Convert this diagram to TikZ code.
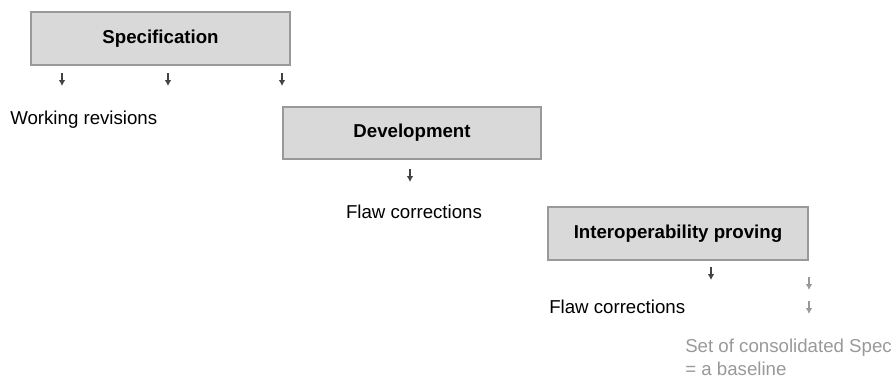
\documentclass[tikz,border=0pt]{standalone}
\usepackage{fontspec}
\setmainfont{Liberation Sans}
\usetikzlibrary{arrows.meta}
\definecolor{boxfill}{HTML}{D9D9D9}
\definecolor{boxline}{HTML}{999999}
\definecolor{darkarrow}{HTML}{434343}
\definecolor{lightarrow}{HTML}{999999}
\newcommand*{\arrowLen}{13}
\newcommand*{\labelFont}{\fontsize{14}{17}\selectfont}
\tikzset{
	phase/.style={draw=boxline,fill=boxfill,line width=0.9pt,font=\labelFont\bfseries,inner sep=0pt},
	note/.style={inner sep=0pt,text=black,font=\labelFont},
	tick/.style={line width=1pt,-{Latex[length=4.5pt,width=5pt]}}
}

\begin{document}
\begin{tikzpicture}[x=0.75pt,y=-0.75pt]
	\useasboundingbox (0,0) rectangle (893,380);

	\node[phase,minimum width=194.25pt,minimum height=39.75pt] (spec) at (160.5,38.5) {Specification};
	\node[phase,minimum width=193.5pt,minimum height=39pt] (dev) at (412,133) {Development};
	\node[phase,minimum width=195pt,minimum height=39.75pt] (interop) at (678,233.5) {Interoperability proving};

	\node[note,anchor=west] (work) at (10,120) {Working revisions};
	\node[note] (flaw1) at (414,212) {Flaw corrections};
	\node[note,anchor=west] (flaw2) at (549,307) {Flaw corrections};
	\node[note,anchor=north west,align=left,text=lightarrow] (base) at (685,339) {Set of consolidated Spec\\= a baseline};

	% working revisions
	\foreach \x/\n in {62/a,168/b,282/c} {
		\coordinate (s\n) at (\x,73);
		\coordinate (e\n) at (\x,73+\arrowLen);
		\draw[tick,darkarrow] (s\n) -- (e\n);
	}
	% flaw corrections
	\coordinate (sd) at (410,169);
	\coordinate (ed) at (410,169+\arrowLen);
	\draw[tick,darkarrow] (sd) -- (ed);
	\coordinate (si) at (711,267);
	\coordinate (ei) at (711,267+\arrowLen);
	\draw[tick,darkarrow] (si) -- (ei);
	% baseline
	\foreach \y/\n in {277/p,301/q} {
		\coordinate (s\n) at (809,\y);
		\coordinate (e\n) at (809,\y+\arrowLen);
		\draw[tick,lightarrow] (s\n) -- (e\n);
	}
\end{tikzpicture}
\end{document}
